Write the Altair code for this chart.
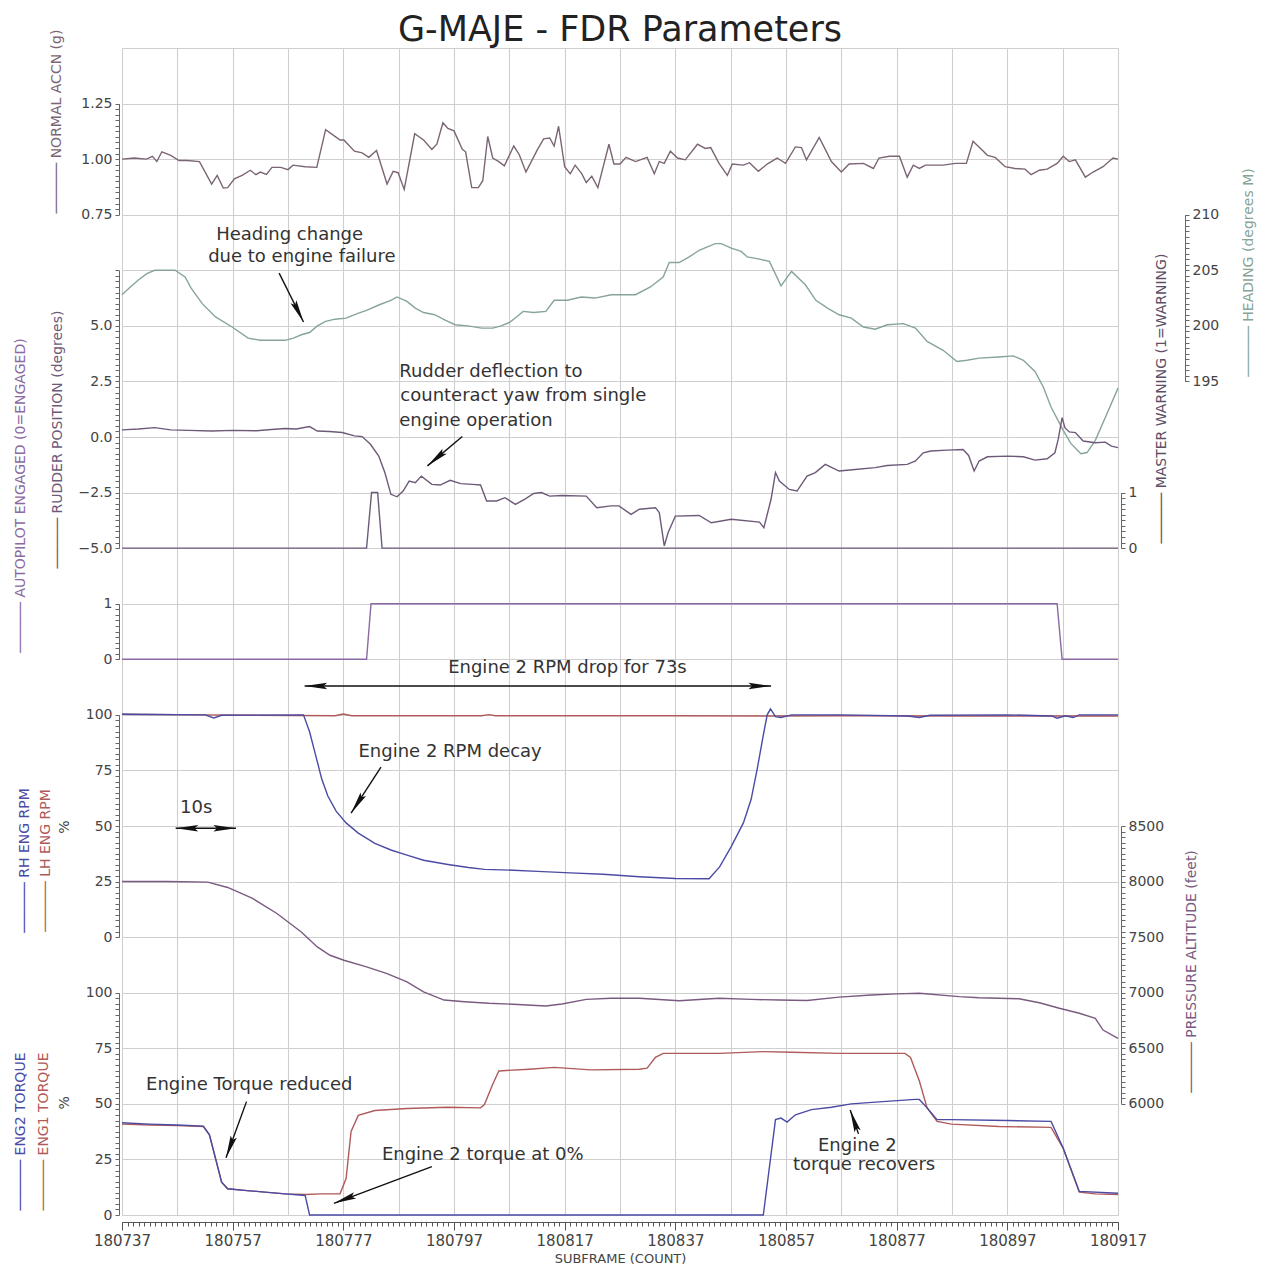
import json
import math
import altair as alt
import pandas as pd

FONT = "DejaVu Sans"
X0, X1 = 180737, 180917
W, H = 996, 1167
NROWS = 21
G = H / NROWS
PXU = W / (X1 - X0)

CHART_TITLE = "G-MAJE - FDR Parameters"

# ---------------- data (x = subframe offset from 180737) ----------------
ACC_X = [0, 2.2, 4.4, 5.5, 6.3, 7.2, 8.8, 10.3, 11.8, 14.0, 16.2, 17.2, 18.3, 19.1, 20.3, 21.7, 23.2, 24.2, 25.0, 26.1,
         27.1, 28.7, 30.0, 30.9, 33.1, 35.2, 36.8, 38.3, 39.4, 40.1, 42.0, 43.4, 44.6, 46.0, 47.9, 49.0, 49.9, 51.0, 52.9, 54.5,
         56.0, 56.9, 58.0, 58.9, 60.0, 61.5, 62.1, 63.2, 64.4, 65.2, 66.1, 67.0, 68.1, 69.1, 70.8, 71.8, 73.0, 75.1, 76.2, 77.3,
         78.1, 78.9, 80.0, 81.0, 81.9, 83.1, 83.9, 84.9, 86.0, 88.0, 88.9, 90.0, 91.1, 92.8,
         94.9, 96.2, 97.1, 98.0, 99.1, 100.4, 101.8, 104.0, 105.4, 106.4, 107.9, 109.4, 110.3, 112.3, 113.4, 115.0, 116.6, 118.4,
         119.9, 121.7, 122.8, 123.7, 126.0, 127.1, 128.2, 130.0, 131.4, 134.0, 135.8, 136.8, 138.7, 140.5, 141.9, 143.0, 144.1,
         145.2, 147.0, 148.4, 150.6, 152.6, 153.8, 155.3, 156.4, 157.8, 159.6, 161.4, 163.2, 164.3, 165.8, 167.2, 169.0, 170.1,
         171.2, 172.3, 174.1, 175.5, 177.3, 179.1, 180]
ACC_V = [1.000, 1.005, 1.000, 1.013, 0.989, 1.033, 1.017, 0.994, 0.994, 0.989,
         0.888, 0.927, 0.870, 0.872, 0.911, 0.927, 0.950, 0.930, 0.942, 0.931,
         0.963, 0.963, 0.953, 0.973, 0.966, 0.963, 1.133, 1.106, 1.086, 1.086,
         1.036, 1.028, 1.008, 1.039, 0.888, 0.945, 0.939, 0.864, 1.114, 1.086,
         1.044, 1.067, 1.164, 1.138, 1.127, 1.044, 1.033, 0.872, 0.872, 0.903,
         1.102, 1.005, 0.989, 0.970, 1.059, 1.020, 0.942, 1.044, 1.091, 1.095,
         1.059, 1.148, 0.966, 0.934, 0.973, 0.934, 0.895, 0.923, 0.872, 1.067,
         0.978, 0.978, 1.008, 0.989,
         1.008, 0.934, 0.989, 0.981, 1.036, 1.005, 0.997, 1.067, 1.048, 1.052,
         0.981, 0.927, 0.978, 0.973, 0.984, 0.945, 0.978, 1.005, 0.981, 1.055,
         1.052, 0.997, 1.098, 1.044, 0.989, 0.942, 0.978, 0.981, 0.958, 1.005,
         1.013, 1.013, 0.919, 0.973, 0.958, 0.973, 0.973, 0.973, 0.981, 0.981,
         1.080, 1.044, 1.017, 1.008, 0.966, 0.958, 0.955, 0.930, 0.950, 0.955,
         0.981, 1.013, 0.989, 0.997, 0.919, 0.942, 0.966, 1.005, 1.000]

HDG_X = [0, 1.5, 2.9, 4.5, 5.9, 9.6, 11.4, 12.5, 14.5, 16.9, 19.9, 22.8, 25.0, 29.5, 31.0, 32.4, 33.9, 35.3, 36.8, 38.5,
         40.5, 42.5, 44.2, 46.5, 48.6, 49.7, 51.5, 53.0, 54.5, 56.5, 58.5, 60.2, 62.5, 65.0, 67.0, 68.5, 70.0, 71.3, 72.5, 74.4,
         76.6, 78.1, 80.5, 83.0, 85.5, 88.4, 92.8, 95.5, 97.8, 98.9, 100.7, 102.5, 104.3, 107.2, 108.3, 110.1, 111.9, 113.0,
         115.2, 117.0, 119.1, 121.0, 123.5, 125.4, 127.5, 129.6, 131.8, 134.0, 136.1, 138.3, 141.2, 143.4, 145.5, 148.4, 150.9,
         152.7, 154.9, 158.5, 161.1, 162.9, 165.0, 166.5, 167.9, 170.1, 171.5, 173.3, 174.4, 175.9, 178.0, 180]
HDG_V = [202.8, 203.5, 204.1, 204.7, 205.0, 205.0, 204.4, 203.4, 202.0, 200.8, 199.9, 198.9, 198.7, 198.7, 198.9, 199.2,
         199.4, 200.0, 200.4, 200.6, 200.7, 201.1, 201.4, 201.9, 202.3, 202.6, 202.2, 201.6, 201.2, 201.0, 200.5, 200.1, 200.0,
         199.8, 199.8, 200.0, 200.3, 200.8, 201.3, 201.2, 201.3, 202.3, 202.3, 202.6, 202.5, 202.8, 202.8, 203.5, 204.4, 205.7,
         205.7, 206.2, 206.8, 207.4, 207.4, 207.0, 206.7, 206.2, 206.0, 205.8, 203.6, 204.9, 203.7, 202.3, 201.6, 201.0, 200.7,
         199.9, 199.7, 200.1, 200.2, 199.8, 198.6, 197.8, 196.8, 196.9, 197.1, 197.2, 197.3, 196.9, 195.9, 194.5, 192.7, 190.6,
         189.4, 188.5, 188.6, 189.7, 192.1, 194.4]

RUD_X = [0, 3, 5.9, 8.8, 12, 16.2, 20, 24.3, 27, 29.5, 31.5, 33.9, 35.3, 37.5, 39.8, 42.0, 43.4, 44.9, 46.4, 47.5, 48.6,
         49.7, 50.8, 51.9, 53.0, 54.1, 56.0, 57.5, 59.3, 61.2, 63.3, 64.8, 65.9, 67.7, 69.2, 71.1, 72.9, 74.4, 75.8, 77.3,
         79.5, 83.9, 85.8, 88.4, 89.8, 92.0, 93.5, 96.4, 97.1, 98.0, 98.7, 100.0, 104.3, 106.5, 110.1, 115.2, 116.0, 117.3,
         118.1, 118.8, 120.6, 122.0, 123.8, 125.3, 127.1, 129.6, 132.5, 136.1, 138.3, 141.9, 143.4, 144.8, 146.2, 149.1,
         152.0, 153.0, 154.0, 154.9, 156.4, 160.0, 162.9, 165.0, 167.2, 168.6, 169.2, 169.9, 170.4, 171.2, 172.3, 173.7,
         175.9, 177.7, 178.8, 180]
RUD_V = [0.32, 0.36, 0.42, 0.32, 0.30, 0.27, 0.30, 0.28, 0.34, 0.38, 0.36, 0.47, 0.27, 0.25, 0.20, 0.05, 0.02, -0.33,
         -0.86, -1.60, -2.58, -2.69, -2.43, -1.98, -2.06, -1.76, -2.13, -2.16, -1.95, -2.10, -2.13, -2.16, -2.88, -2.88,
         -2.73, -3.03, -2.78, -2.54, -2.50, -2.66, -2.63, -2.66, -3.18, -3.10, -3.10, -3.48, -3.25, -3.18, -3.40, -4.90,
         -4.30, -3.56, -3.53, -3.86, -3.70, -3.83, -4.08, -2.80, -1.60, -1.98, -2.36, -2.43, -1.76, -1.60, -1.23, -1.53,
         -1.46, -1.38, -1.28, -1.23, -1.08, -0.71, -0.63, -0.59, -0.56, -0.83, -1.53, -1.08, -0.89, -0.86, -0.89, -1.04,
         -0.98, -0.71, -0.10, 0.87, 0.42, 0.23, 0.20, -0.18, -0.26, -0.23, -0.41, -0.48]

MW_X = [0, 44.2, 45.1, 46.2, 47.0, 180]
MW_V = [0, 0, 1, 1, 0, 0]
AP_X = [0, 44.2, 45.0, 169.0, 169.9, 180]
AP_V = [0, 0, 1, 1, 0, 0]

LH_X = [0, 15, 38.5, 40.0, 41.5, 65, 66.3, 67.5, 100, 117, 130, 150, 180]
LH_V = [100.3, 100, 99.6, 100.4, 99.6, 99.6, 100.1, 99.6, 99.6, 99.5, 99.6, 99.5, 99.5]
RH_X = [0, 15, 16.6, 18, 32.8, 33.9, 35.0, 36.1, 37.2, 38.7, 40.5, 42.7, 45.7, 48.6, 51.5, 54.5, 58.9, 62.6, 65.5, 70.7,
        75.1, 81.0, 86.9, 93.5, 100, 106.1, 108.0, 110.1, 112.3, 113.7, 114.8, 115.9, 116.6, 117.2, 118.1, 119.1, 121.0,
        130, 142, 144.1, 146, 160, 168, 169.0, 170.5, 171.9, 173, 180]
RH_V = [100.3, 100, 98.6, 99.8, 100, 92.4, 81.8, 71.1, 63.5, 56.7, 51.4, 46.8, 42.2, 39.2, 36.9, 34.6, 32.7, 31.3, 30.5,
        30.1, 29.6, 28.9, 28.3, 27.2, 26.4, 26.3, 31.6, 40.7, 51.4, 62.0, 75.7, 90.9, 100, 102.7, 99.2, 98.8, 100, 100,
        99.5, 98.8, 99.8, 100, 99.5, 98.5, 99.6, 98.8, 100, 100]

ALT_X = [0, 8, 15.5, 19.1, 23.6, 28.0, 32.4, 35.3, 37.6, 40.1, 44.2, 47.9, 51.5, 54.5, 58.2, 61.9, 66.3, 70.7, 76.6, 79.5,
         83.9, 88.4, 93.5, 100.7, 107.9, 113.7, 118.8, 123.8, 129.6, 135.4, 140.0, 144.1, 151.3, 154.9, 162.1, 165.8, 169.4,
         173.0, 175.9, 177.3, 180]
ALT_V = [8000, 8000, 7995, 7947, 7848, 7713, 7547, 7412, 7337, 7292, 7232, 7172, 7097, 7007, 6934, 6919, 6905, 6896, 6880,
         6898, 6940, 6950, 6950, 6928, 6950, 6940, 6934, 6930, 6960, 6979, 6990, 6995, 6965, 6955, 6946, 6910, 6860, 6815,
         6770, 6664, 6590]

TQ1_X = [0, 5, 10, 14.7, 15.8, 16.9, 18.0, 19.1, 22.1, 25.8, 29.5, 33.1, 36.0, 39.4, 40.5, 41.4, 42.7, 45.7, 51.5, 58.9,
         64.8, 65.5, 67.0, 68.1, 73.6, 78.1, 84.7, 93.5, 94.9, 96.4, 97.8, 107.9, 115.9, 121.0, 129.6, 141.5, 142.5, 144.1,
         145.5, 147.3, 149.9, 158.5, 167.9, 170.1, 173.0, 175.9, 180]
TQ1_V = [40.9, 40.5, 40.2, 39.8, 36.1, 25.5, 14.8, 11.8, 11.1, 10.3, 9.5, 9.2, 9.5, 9.5, 16.4, 37.6, 44.8, 47.0, 47.9,
         48.5, 48.2, 49.7, 58.8, 64.8, 65.6, 66.4, 65.3, 65.6, 66.1, 70.9, 72.7, 72.7, 73.5, 73.2, 72.7, 72.7, 70.9, 60.3,
         48.2, 42.1, 40.9, 39.8, 39.4, 30.0, 10.3, 9.5, 9.2]
TQ2_X = [0, 5, 10, 14.7, 15.8, 16.9, 18.0, 19.1, 22.1, 25.8, 29.5, 33.1, 33.9, 115.9, 118.1, 119.1, 120.2, 121.7, 124.6,
         128.2, 131.8, 136.8, 143.4, 144.1, 145.5, 147.3, 149.9, 160.0, 167.9, 170.1, 173.0, 180]
TQ2_V = [41.5, 40.9, 40.5, 40.0, 36.1, 25.5, 14.8, 11.8, 11.1, 10.3, 9.5, 8.8, 0, 0, 42.9, 43.6, 41.8, 45.1, 47.4, 48.5,
         50.0, 50.9, 52.0, 52.0, 48.2, 42.9, 42.9, 42.5, 42.1, 30.0, 10.6, 9.8]

# annotations (x = subframe offset, row = grid row counted from the top)
ANN_C_TEXT = ["Heading change", "due to engine failure", "Engine 2 RPM drop for 73s", "Engine 2 RPM decay", "10s",
              "Engine Torque reduced", "Engine 2 torque at 0%", "Engine 2", "torque recovers"]
ANN_C_X = [30.3, 32.5, 80.5, 59.3, 13.4, 23.0, 65.2, 132.9, 134.1]
ANN_C_ROW = [3.37, 3.76, 11.16, 12.66, 13.68, 18.66, 19.92, 19.76, 20.10]
ANN_L_TEXT = ["Rudder deflection to", "counteract yaw from single", "engine operation"]
ANN_L_X = [50.1, 50.3, 50.1]
ANN_L_ROW = [5.83, 6.27, 6.71]

ARR_TAIL_X = [28.4, 61.5, 46.8, 22.5, 56.0, 133.1, 33.0, 9.7]
ARR_TAIL_R = [4.05, 6.99, 12.94, 18.96, 20.13, 19.54, 11.48, 14.04]
ARR_HEAD_X = [32.8, 55.2, 41.4, 18.8, 38.3, 131.6, 117.3, 20.6]
ARR_HEAD_R = [4.93, 7.52, 13.77, 19.97, 20.79, 19.11, 11.48, 14.04]
ARR_DOUBLE = [False, False, False, False, False, False, True, True]

PCT_ROW = [14.02, 18.98]

# ---------------- helpers ----------------
XS = alt.Scale(domain=[X0, X1], nice=False, zero=False)
ROWS = alt.Scale(domain=[0, NROWS], range=[0, H], nice=False, zero=False)


def frame(xs, vs):
    return pd.DataFrame({"sf": [X0 + x for x in xs], "v": vs})


def steps(lo, hi, step, nd=4):
    n = int(round((hi - lo) / step))
    return [round(lo + i * step, nd) for i in range(n + 1)]


TFS = 14  # axis title font size


def yaxis(orient, vals, majors, fmt, title, tcolor, tx, ty, offset=3):
    expr = "indexof(%s, datum.value) >= 0 ? format(datum.value, '%s') : ''" % (json.dumps(majors), fmt)
    return alt.Axis(orient=orient, values=vals, labelExpr=expr, tickSize=4, tickWidth=1, tickColor="#666",
                    domainColor="#666", domainWidth=1, labelFont=FONT, labelFontSize=14, labelColor="#444",
                    labelPadding=3, labelOverlap=False, labelFlush=False, grid=False, offset=offset,
                    title=title, titleFont=FONT, titleFontSize=TFS, titleFontWeight="normal", titleColor=tcolor,
                    titleAngle=270, titleAlign="center", titleBaseline="middle", titleX=tx, titleY=ty)


def title_axis(orient, title, tcolor, tx, ty, offset=3):
    return alt.Axis(orient=orient, labels=False, ticks=False, domain=False, grid=False, offset=offset,
                    title=title, titleFont=FONT, titleFontSize=TFS, titleFontWeight="normal", titleColor=tcolor,
                    titleAngle=270, titleAlign="center", titleBaseline="middle", titleX=tx, titleY=ty)


def series(xs, vs, color, dom, rows, axis, width=1.4):
    return alt.Chart(frame(xs, vs)).mark_line(color=color, strokeWidth=width).encode(
        x=alt.X("sf:Q", scale=XS, axis=None),
        y=alt.Y("v:Q", scale=alt.Scale(domain=dom, range=[rows[0] * G, rows[1] * G], nice=False, zero=False),
                axis=axis),
    )


LINE = "\u2500" * 6 + "  "
C_ACC = "#7b6575"
C_HDG = "#86a597"
C_RUD = "#6e5a78"
C_AP = "#8a6aa0"
C_BLUE = "#4b4ba5"
C_RED = "#b05a5a"
C_ALT = "#7a5a80"

LEFT0 = 122 - 3     # page x of left axis line
RIGHT0 = 1118 + 3   # page x of right axis line

# ---------------- layers ----------------
dummy = pd.DataFrame({"sf": [X0, X1], "row": [0, NROWS]})

grid = alt.Chart(dummy).mark_point(opacity=0).encode(
    x=alt.X("sf:Q", scale=XS, title=None,
            axis=alt.Axis(orient="bottom", values=list(range(X0, X1 + 1, 10)), grid=True, gridColor="#cfcfcf",
                          gridWidth=1.1, ticks=False, labels=False, domain=False)),
    y=alt.Y("row:Q", scale=ROWS, title=None,
            axis=alt.Axis(orient="left", values=list(range(NROWS + 1)), grid=True, gridColor="#cfcfcf",
                          gridWidth=1.1, ticks=False, labels=False, domain=False)),
)

xmain = alt.Chart(dummy).mark_point(opacity=0).encode(
    x=alt.X("sf:Q", scale=XS,
            axis=alt.Axis(orient="bottom", values=list(range(X0, X1 + 1, 20)), format="d", tickSize=8,
                          tickColor="#555", domainColor="#555", labelFont=FONT, labelFontSize=15, labelColor="#444",
                          labelPadding=3, labelFlush=False, labelOverlap=False, grid=False, offset=7,
                          title="SUBFRAME (COUNT)", titleFont=FONT, titleFontSize=13, titleFontWeight="normal",
                          titleColor="#444", titlePadding=4)),
    y=alt.Y("row:Q", scale=ROWS, axis=None),
)

xminor = alt.Chart(dummy).mark_point(opacity=0).encode(
    x=alt.X("sf:Q", scale=XS, title=None,
            axis=alt.Axis(orient="bottom", values=list(range(X0, X1 + 1, 1)), tickSize=4, tickColor="#555",
                          labels=False, domain=False, grid=False, offset=7)),
    y=alt.Y("row:Q", scale=ROWS, axis=None),
)

acc = series(ACC_X, ACC_V, C_ACC, [0.75, 1.25], (3, 1),
             yaxis("left", steps(0.75, 1.25, 0.025), [0.75, 1.0, 1.25], ".2f", LINE + "NORMAL ACCN (g)", C_ACC,
                   56 - LEFT0, 121 - 48))
hdg = series(HDG_X, HDG_V, C_HDG, [195, 210], (6, 3),
             yaxis("right", steps(195, 210, 0.5, 2), [195.0, 200.0, 205.0, 210.0], "d", LINE + "HEADING (degrees M)",
                   C_HDG, 1248 - (1118 + 67), 272 - 48, offset=67))
rud = series(RUD_X, RUD_V, C_RUD, [-5, 7.5], (9, 4),
             yaxis("left", steps(-5, 7.5, 0.25), [-5.0, -2.5, 0.0, 2.5, 5.0], ".1f",
                   LINE + "RUDDER POSITION (degrees)", C_RUD, 57 - LEFT0, 439 - 48))
mw = series(MW_X, MW_V, C_RUD, [0, 1], (9, 8),
            yaxis("right", steps(0, 1, 0.1), [0.0, 1.0], "d", LINE + "MASTER WARNING (1=WARNING)", "#5e4e66",
                  1161 - RIGHT0, 398 - 48))
ap = series(AP_X, AP_V, C_AP, [0, 1], (11, 10),
            yaxis("left", steps(0, 1, 0.1), [0.0, 1.0], "d", LINE + "AUTOPILOT ENGAGED (0=ENGAGED)", C_AP,
                  20 - LEFT0, 495 - 48))
lh = series(LH_X, LH_V, C_RED, [0, 100], (16, 12),
            title_axis("left", LINE + "LH ENG RPM", C_RED, 45 - LEFT0, 860 - 48))
rh = series(RH_X, RH_V, C_BLUE, [0, 100], (16, 12),
            yaxis("left", steps(0, 100, 2.5, 2), [0.0, 25.0, 50.0, 75.0, 100.0], "d", LINE + "RH ENG RPM", C_BLUE,
                  24 - LEFT0, 860 - 48))
alt_ = series(ALT_X, ALT_V, C_ALT, [6000, 8500], (19, 14),
              yaxis("right", steps(6000, 8500, 50, 0), [float(v) for v in range(6000, 8501, 500)], "d",
                    LINE + "PRESSURE ALTITUDE (feet)", C_ALT, 1191 - RIGHT0, 971 - 48))
tq1 = series(TQ1_X, TQ1_V, C_RED, [0, 100], (21, 17),
             title_axis("left", LINE + "ENG1 TORQUE", C_RED, 43 - LEFT0, 1131 - 48))
tq2 = series(TQ2_X, TQ2_V, C_BLUE, [0, 100], (21, 17),
             yaxis("left", steps(0, 100, 2.5, 2), [0.0, 25.0, 50.0, 75.0, 100.0], "d", LINE + "ENG2 TORQUE", C_BLUE,
                   20 - LEFT0, 1131 - 48))

pct = alt.Chart(pd.DataFrame({"row": PCT_ROW, "t": ["%", "%"]})).mark_text(
    font=FONT, fontSize=14, color="#444", angle=270, align="center", baseline="middle").encode(
    x=alt.value(65 - 122),
    y=alt.Y("row:Q", scale=ROWS, axis=None),
    text="t:N",
)

title_layer = alt.Chart(pd.DataFrame({"t": [CHART_TITLE]})).mark_text(
    font=FONT, fontSize=35, color="#222", align="center", baseline="middle").encode(
    x=alt.value(W / 2), y=alt.value(-18), text="t:N",
)


def ann_text(texts, xs, rows, align):
    d = pd.DataFrame({"sf": [X0 + v for v in xs], "row": rows, "t": texts})
    return alt.Chart(d).mark_text(font=FONT, fontSize=18, color="#333", align=align, baseline="middle").encode(
        x=alt.X("sf:Q", scale=XS, axis=None),
        y=alt.Y("row:Q", scale=ROWS, axis=None),
        text="t:N",
    )


txt_c = ann_text(ANN_C_TEXT, ANN_C_X, ANN_C_ROW, "center")
txt_l = ann_text(ANN_L_TEXT, ANN_L_X, ANN_L_ROW, "left")

shafts = pd.DataFrame({
    "sf": [X0 + v for v in ARR_TAIL_X], "row": ARR_TAIL_R,
    "sf2": [X0 + v for v in ARR_HEAD_X], "row2": ARR_HEAD_R,
})


def heading_deg(xa, ra, xb, rb):
    dx = (xb - xa) * PXU
    dy = (rb - ra) * G
    return (math.degrees(math.atan2(dx, -dy)) + 360.0) % 360.0


hx, hr, ha = [], [], []
for tx_, tr_, hx_, hr_, dbl in zip(ARR_TAIL_X, ARR_TAIL_R, ARR_HEAD_X, ARR_HEAD_R, ARR_DOUBLE):
    hx.append(X0 + hx_); hr.append(hr_); ha.append(heading_deg(tx_, tr_, hx_, hr_))
    if dbl:
        hx.append(X0 + tx_); hr.append(tr_); ha.append(heading_deg(hx_, hr_, tx_, tr_))
heads = pd.DataFrame({"sf": hx, "row": hr, "a": ha})

shaft_layer = alt.Chart(shafts).mark_rule(color="#111", strokeWidth=1.4).encode(
    x=alt.X("sf:Q", scale=XS, axis=None), x2="sf2:Q",
    y=alt.Y("row:Q", scale=ROWS, axis=None), y2="row2:Q",
)
DART = "M0,0L0.32,2.2L0,1.85L-0.32,2.2Z"
head_layer = alt.Chart(heads).mark_point(shape=DART, filled=True, size=420, color="#111", opacity=1,
                                         strokeWidth=0).encode(
    x=alt.X("sf:Q", scale=XS, axis=None),
    y=alt.Y("row:Q", scale=ROWS, axis=None),
    angle=alt.Angle("a:Q", scale=None),
)

chart = alt.layer(
    grid, xmain, xminor, acc, hdg, rud, mw, ap, lh, rh, alt_, tq1, tq2, pct, title_layer,
    txt_c, txt_l, shaft_layer, head_layer,
).resolve_scale(y="independent").resolve_axis(x="independent", y="independent").properties(
    width=W, height=H,
    autosize=alt.AutoSizeParams(type="none"),
    padding={"left": 114, "top": 40, "right": 142, "bottom": 50},
).configure_view(stroke="#8c8c8c", strokeWidth=1.5).configure(background="white")

chart.save("out.html", embed_options={"renderer": "svg", "actions": False})
